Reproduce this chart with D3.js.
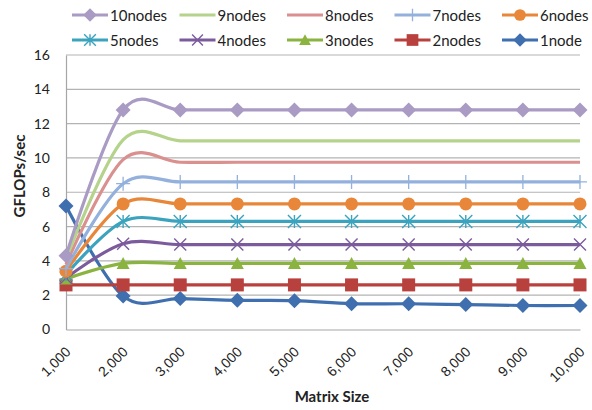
<!DOCTYPE html>
<html>
<head>
<meta charset="utf-8">
<script src="https://cdn.jsdelivr.net/npm/d3@7"></script>
<style>
  html, body { margin: 0; padding: 0; background: #fff; }
  svg { display: block; font-family: Lato, "Open Sans", sans-serif; }
</style>
</head>
<body>
<svg id="chart" width="592" height="410"></svg>
<script>
// Matrix sizes along the x axis
const sizes = [1000, 2000, 3000, 4000, 5000, 6000, 7000, 8000, 9000, 10000];
const yTicks = [0, 2, 4, 6, 8, 10, 12, 14, 16];

// GFLOPs/sec per node count
const nodes10 = [4.3, 12.8, 12.8, 12.8, 12.8, 12.8, 12.8, 12.8, 12.8, 12.8];
const nodes9  = [4.1, 11.05, 11.0, 11.0, 11.0, 11.0, 11.0, 11.0, 11.0, 11.0];
const nodes8  = [3.8, 9.9, 9.75, 9.75, 9.75, 9.75, 9.75, 9.75, 9.75, 9.75];
const nodes7  = [3.55, 8.5, 8.6, 8.6, 8.6, 8.6, 8.6, 8.6, 8.6, 8.6];
const nodes6  = [3.4, 7.32, 7.32, 7.32, 7.32, 7.32, 7.32, 7.32, 7.32, 7.32];
const nodes5  = [3.2, 6.3, 6.3, 6.3, 6.3, 6.3, 6.3, 6.3, 6.3, 6.3];
const nodes4  = [3.0, 5.0, 4.95, 4.95, 4.95, 4.95, 4.95, 4.95, 4.95, 4.95];
const nodes3  = [2.95, 3.85, 3.85, 3.85, 3.85, 3.85, 3.85, 3.85, 3.85, 3.85];
const nodes2  = [2.6, 2.6, 2.6, 2.6, 2.6, 2.6, 2.6, 2.6, 2.6, 2.6];
const nodes1  = [7.2, 1.95, 1.8, 1.7, 1.68, 1.5, 1.5, 1.45, 1.4, 1.4];

const seriesNames = ["10nodes", "9nodes", "8nodes", "7nodes", "6nodes",
                     "5nodes", "4nodes", "3nodes", "2nodes", "1node"];
const seriesValues = [nodes10, nodes9, nodes8, nodes7, nodes6,
                      nodes5, nodes4, nodes3, nodes2, nodes1];
const seriesColors = ["#a99bc4", "#b5d38b", "#d9908e", "#93b1dc", "#e8873a",
                      "#3ba3bd", "#7b5b9c", "#8ab43f", "#b8403d", "#3f6fae"];
const seriesMarkers = ["diamond", "none", "none", "plus", "circle",
                       "star", "x", "triangle", "square", "diamond"];

const svg = d3.select("#chart");
const plotLeft = 66, plotRight = 580;

const x = d3.scalePoint().domain(sizes).range([plotLeft, plotRight]);
const y = d3.scaleLinear().domain([0, 16]).range([329.5, 55]);

// horizontal gridlines
svg.append("g").selectAll("line").data(yTicks.filter(d => d > 0)).join("line")
  .attr("x1", plotLeft).attr("x2", plotRight)
  .attr("y1", d => y(d)).attr("y2", d => y(d))
  .attr("stroke", "#b3b3b3").attr("stroke-width", 1.2);

// y axis
const yAxis = svg.append("g").attr("transform", `translate(${plotLeft},0)`)
  .call(d3.axisLeft(y).tickValues(yTicks).tickSize(0).tickPadding(16).tickFormat(d3.format("d")));
yAxis.select(".domain").attr("stroke", "#a6a6a6").attr("stroke-width", 1.2);
yAxis.selectAll("text").attr("font-size", 14).attr("fill", "#222")
  .attr("font-family", "Lato, sans-serif");

// x axis
const xAxis = svg.append("g").attr("transform", `translate(0,${y(0)})`)
  .call(d3.axisBottom(x).tickSize(0).tickFormat(d3.format(",")));
xAxis.select(".domain").attr("stroke", "#a6a6a6").attr("stroke-width", 1.2);
xAxis.selectAll("text")
  .attr("font-size", 14).attr("fill", "#222")
  .attr("text-anchor", "end")
  .attr("dy", 0)
  .attr("transform", "translate(3,21) rotate(-45)");

// axis titles
svg.append("text")
  .attr("x", 332).attr("y", 402)
  .attr("text-anchor", "middle")
  .attr("font-size", 15).attr("font-weight", "bold").attr("fill", "#222")
  .text("Matrix Size");
svg.append("text")
  .attr("transform", "translate(25,176) rotate(-90)")
  .attr("text-anchor", "middle")
  .attr("font-size", 15).attr("font-weight", "bold").attr("fill", "#222")
  .text("GFLOPs/sec");

// marker drawing
function drawMarker(g, type, color, cx, cy, scale) {
  const s = scale || 1;
  if (type === "diamond") {
    const r = 7.5 * s;
    g.append("path").attr("d", `M${cx},${cy - r}L${cx + r},${cy}L${cx},${cy + r}L${cx - r},${cy}Z`)
      .attr("fill", color);
  } else if (type === "circle") {
    g.append("circle").attr("cx", cx).attr("cy", cy).attr("r", 6.5 * s).attr("fill", color);
  } else if (type === "square") {
    const r = 6.5 * s;
    g.append("rect").attr("x", cx - r).attr("y", cy - r).attr("width", 2 * r).attr("height", 2 * r)
      .attr("fill", color);
  } else if (type === "triangle") {
    const r = 6.5 * s;
    g.append("path").attr("d", `M${cx},${cy - r}L${cx + r},${cy + r * 0.85}L${cx - r},${cy + r * 0.85}Z`)
      .attr("fill", color);
  } else if (type === "plus") {
    const r = 7 * s;
    g.append("path").attr("d", `M${cx},${cy - r}V${cy + r}M${cx - r},${cy}H${cx + r}`)
      .attr("stroke", color).attr("stroke-width", 1.3);
  } else if (type === "x") {
    const r = 6 * s;
    g.append("path").attr("d", `M${cx - r},${cy - r}L${cx + r},${cy + r}M${cx - r},${cy + r}L${cx + r},${cy - r}`)
      .attr("stroke", color).attr("stroke-width", 1.4);
  } else if (type === "star") {
    const r = 6.5 * s;
    g.append("path").attr("d",
      `M${cx - r},${cy - r}L${cx + r},${cy + r}M${cx - r},${cy + r}L${cx + r},${cy - r}M${cx},${cy - r}V${cy + r}`)
      .attr("stroke", color).attr("stroke-width", 1.4);
  }
}

const line = d3.line()
  .x((d, i) => x(sizes[i]))
  .y(d => y(d))
  .curve(d3.curveCatmullRom.alpha(0));

// draw series from the lowest legend entry up so 10nodes sits on top
const plot = svg.append("g");
for (let k = seriesValues.length - 1; k >= 0; k--) {
  const g = plot.append("g");
  g.append("path").datum(seriesValues[k])
    .attr("d", line)
    .attr("fill", "none")
    .attr("stroke", seriesColors[k])
    .attr("stroke-width", 3.2)
    .attr("stroke-linejoin", "round");
  seriesValues[k].forEach((v, i) => {
    drawMarker(g, seriesMarkers[k], seriesColors[k], x(sizes[i]), y(v));
  });
}

// legend: two rows of five
const legend = svg.append("g");
seriesNames.forEach((name, k) => {
  const col = k % 5, row = Math.floor(k / 5);
  const lx = 72 + col * 107.5, ly = 15 + row * 25;
  const g = legend.append("g");
  g.append("line").attr("x1", lx).attr("x2", lx + 36).attr("y1", ly).attr("y2", ly)
    .attr("stroke", seriesColors[k]).attr("stroke-width", 3.2);
  drawMarker(g, seriesMarkers[k], seriesColors[k], lx + 18, ly, 0.9);
  g.append("text").attr("x", lx + 38).attr("y", ly + 5.5)
    .attr("font-size", 15).attr("fill", "#222").text(name);
});
</script>
</body>
</html>
